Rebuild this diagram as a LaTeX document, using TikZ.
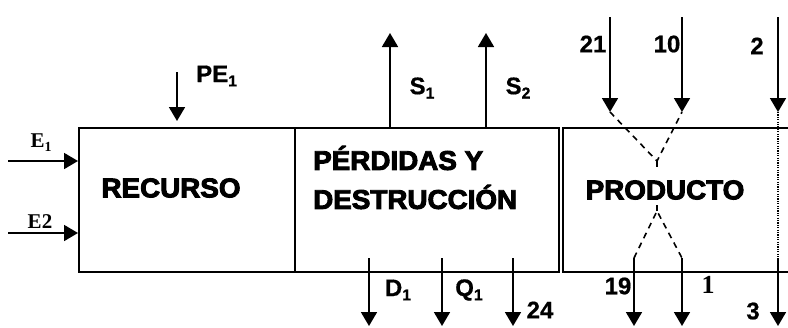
\documentclass[tikz,border=0pt]{standalone}
\usepackage{fontspec}
\setmainfont{Liberation Sans}
\newfontfamily\heavy{Liberation Sans Bold}[FakeBold=3.5,FakeStretch=1.03]
\newfontfamily\labf{Liberation Sans Bold}[FakeBold=0.6]
\newfontfamily\serb{Liberation Serif Bold}
\usetikzlibrary{arrows.meta}
\newcommand{\sbs}[1]{\raisebox{-0.18em}{\scalebox{0.66}{#1}}}
\begin{document}
\begin{tikzpicture}[x=1pt,y=-1pt,
  box/.style={draw, line width=1.8pt, rectangle, anchor=north west, inner sep=0pt},
  arr/.style={line width=1.8pt, -{Triangle[width=16pt,length=14pt]}},
  dash line/.style={line width=1.6pt, dash pattern=on 6pt off 5pt},
  dot line/.style={line width=1.4pt, dash pattern=on 1.2pt off 1.2pt},
  big/.style={font=\heavy\fontsize{27}{30}\selectfont, inner sep=0pt},
  lab/.style={font=\labf\fontsize{24}{26}\selectfont, inner sep=0pt},
  slab/.style={font=\serb\fontsize{21}{24}\selectfont, inner sep=0pt}]
\useasboundingbox (0,0) rectangle (788,327);
% boxes
\node[box, minimum width=216pt, minimum height=144pt] (rec) at (78,127) {};
\node[box, minimum width=264pt, minimum height=144pt] (per) at (294,127) {};
\node[box, minimum width=260pt, minimum height=144pt] (pro) at (562,127) {};
% box texts
\node[big] (trec) at (171,188) {RECURSO};
\node[big, anchor=west, align=left] (tper1) at (313,158) {PÉRDIDAS Y};
\node[big, anchor=west, align=left] (tper2) at (313,197) {DESTRUCCIÓN};
\node[big] (tpro) at (665,190) {PRODUCTO};
% inputs to recurso
\coordinate (e1s) at (8,161);
\coordinate (e2s) at (8,233);
\draw[arr] (e1s) -- (e1s -| rec.west);
\draw[arr] (e2s) -- (e2s -| rec.west);
\node[slab] (le1) at (41,143) {E\sbs{1}};
\node[slab] (le2) at (40,222) {E2};
\coordinate (pes) at (177,72);
\coordinate (pee) at (177,121);
\draw[arr] (pes) -- (pee);
\node[lab, anchor=west] (lpe) at (196,76) {PE\sbs{1}};
% outputs up
\coordinate (s1b) at (390,127);
\coordinate (s1t) at (390,33);
\coordinate (s2b) at (486,127);
\coordinate (s2t) at (486,33);
\draw[arr] (s1b) -- (s1t);
\draw[arr] (s2b) -- (s2t);
\node[lab] (ls1) at (422,88) {S\sbs{1}};
\node[lab] (ls2) at (518,88) {S\sbs{2}};
% outputs down
\coordinate (d1a) at (369,258);
\coordinate (d1b) at (369,326);
\coordinate (q1a) at (442,258);
\coordinate (q1b) at (442,326);
\coordinate (p24a) at (513,258);
\coordinate (p24b) at (513,326);
\draw[arr] (d1a) -- (d1b);
\draw[arr] (q1a) -- (q1b);
\draw[arr] (p24a) -- (p24b);
\node[lab] (ld1) at (398,290) {D\sbs{1}};
\node[lab] (lq1) at (469,290) {Q\sbs{1}};
\node[lab] (l24) at (540,310) {24};
% producto inputs
\coordinate (i21a) at (610,17);
\coordinate (i21b) at (610,112);
\coordinate (i10a) at (682,17);
\coordinate (i10b) at (682,112);
\coordinate (i2a) at (778,17);
\coordinate (i2b) at (778,112);
\draw[arr] (i21a) -- (i21b);
\draw[arr] (i10a) -- (i10b);
\draw[arr] (i2a) -- (i2b);
\node[lab] (l21) at (593,44) {21};
\node[lab] (l10) at (667,44) {10};
\node[lab] (l2) at (757,46) {2};
% crossing dashed lines
\coordinate (xt) at (657,161);
\coordinate (xtb) at (657,170);
\coordinate (xb) at (657,211);
\coordinate (xbt) at (657,199);
\coordinate (o19a) at (634,258);
\coordinate (o1a) at (682,258);
\coordinate (o3a) at (778,258);
\draw[dash line] (i21b) -- (xt) -- (i10b);
\draw[dash line] (xt) -- (xtb);
\draw[dash line] (o19a) -- (xb) -- (o1a);
\draw[dash line] (xb) -- (xbt);
\draw[dot line] (i2b) -- (o3a);
% producto outputs
\coordinate (o19b) at (634,326);
\coordinate (o1b) at (682,326);
\coordinate (o3b) at (778,326);
\draw[arr] (o19a) -- (o19b);
\draw[arr] (o1a) -- (o1b);
\draw[arr] (o3a) -- (o3b);
\node[lab] (l19) at (618,286) {19};
\node[slab, font=\serb\fontsize{26}{28}\selectfont] (l1) at (708,285) {1};
\node[lab] (l3) at (753,311) {3};
\end{tikzpicture}
\end{document}
